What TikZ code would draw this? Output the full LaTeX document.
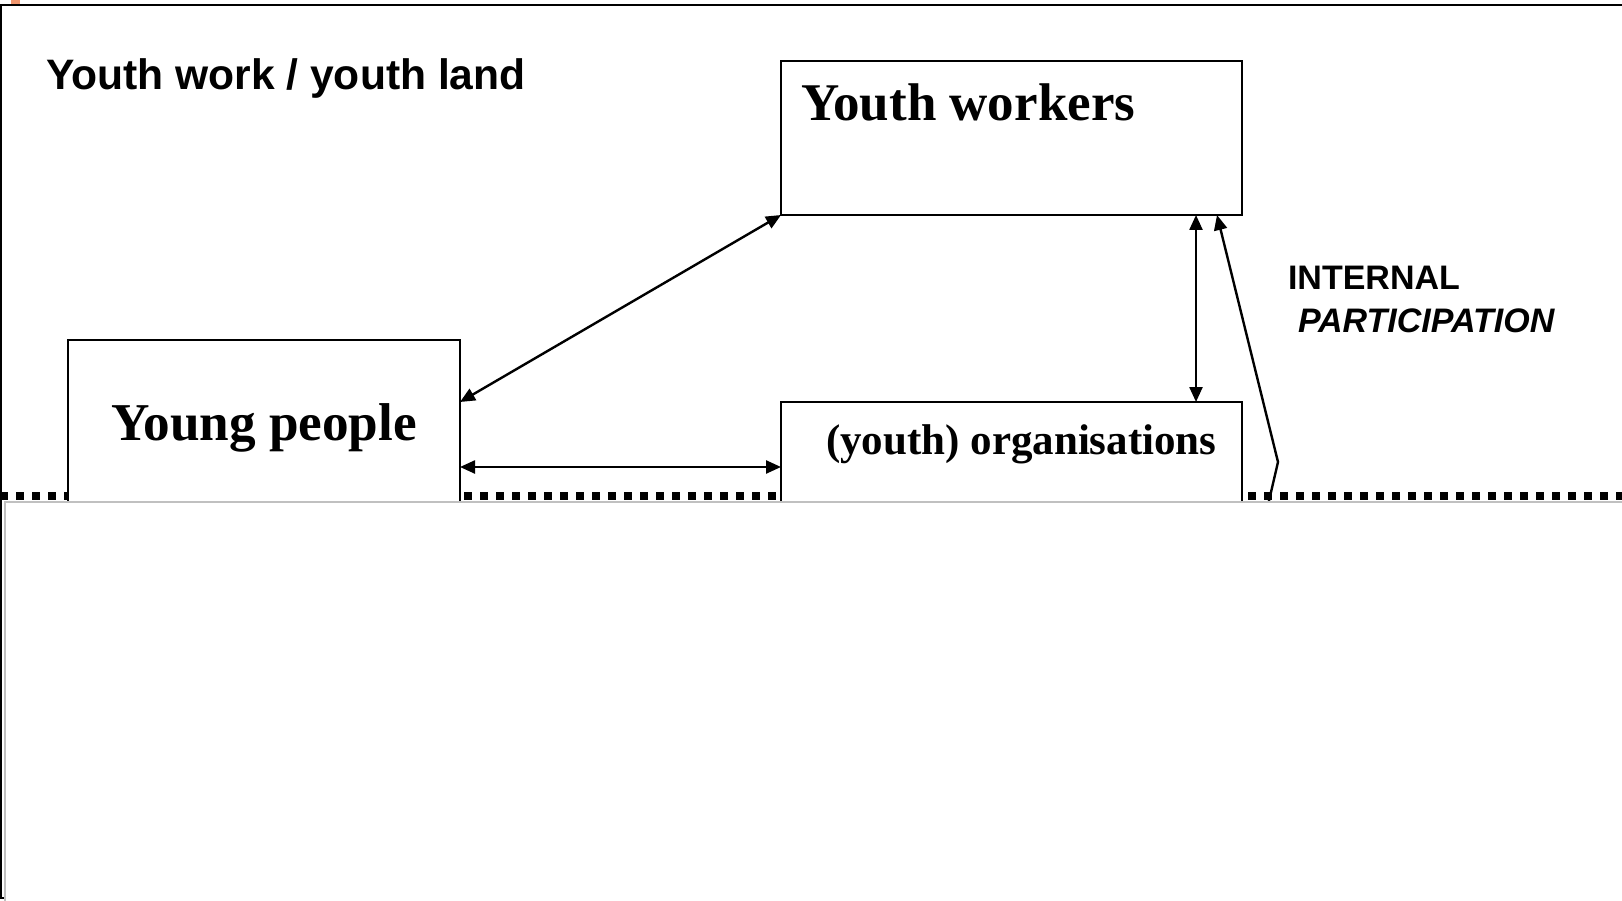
\documentclass[tikz,border=0pt]{standalone}
\usepackage{fontspec}
\setmainfont{Liberation Serif}
\newfontfamily\arialfont{Liberation Sans}
\usetikzlibrary{arrows.meta,calc}
\definecolor{covergray}{RGB}{192,192,192}
\definecolor{artifact}{RGB}{240,150,110}
\begin{document}
\begin{tikzpicture}[x=1pt,y=-1pt,
  box/.style={draw,line width=2.8pt,fill=white,inner sep=0pt,outer sep=0pt,anchor=north west},
  lbl/.style={inner sep=0pt,outer sep=0pt,anchor=base west},
  conn/.style={line width=2.4pt},
  biarrow/.style={conn,{Triangle[length=15pt,width=13pt]}-{Triangle[length=15pt,width=13pt]}},
  uparrow/.style={conn,-{Triangle[length=15pt,width=13pt]}},
  dotline/.style={line width=8pt,dash pattern=on 8pt off 8pt}]
\useasboundingbox (0,0) rectangle (1622,901);
\clip (0,0) rectangle (1622,901);
% outer frame
\draw[line width=2.8pt] (1,5) rectangle (1700,898);
\fill[artifact] (11,0) rectangle (20,4);
% dotted boundary
\draw[dotline] (0,496) -- (1622,496);
% boxes
\node[box,minimum width=461pt,minimum height=154pt] (yw) at (781,61) {};
\node[box,minimum width=392pt,minimum height=220pt] (yp) at (68,340) {};
\node[box,minimum width=461pt,minimum height=130pt] (org) at (781,402) {};
% helper coordinates
\coordinate (vx) at (1196,0);
\coordinate (tx) at (1217,0);
\coordinate (bend) at (1278,462);
\coordinate (tail) at (1268,505);
% connectors
\draw[biarrow] (yp.east |- org.north) -- (yw.south west);
\draw[biarrow] (yp.east |- org.west) -- (org.west);
\draw[biarrow] (yw.south -| vx) -- (org.north -| vx);
\draw[uparrow] (tail) -- (bend) -- (yw.south -| tx);
% cover sheet
\draw[covergray,line width=1.5pt,fill=white] (5,502) rectangle (1700,1000);
% texts
\node[lbl,font={\arialfont\bfseries\fontsize{42.6}{43}\selectfont}] (title) at (46,90) {Youth work / youth land};
\node[lbl,font={\bfseries\fontsize{53}{53}\selectfont}] (ywt) at (801,121) {Youth workers};
\node[lbl,font={\bfseries\fontsize{53.2}{53}\selectfont}] (ypt) at (111,440) {Young people};
\node[lbl,font={\bfseries\fontsize{43}{43}\selectfont}] (orgt) at (826,454) {(youth) organisations};
\node[lbl,font={\arialfont\bfseries\fontsize{34}{34}\selectfont}] (int) at (1288,290) {INTERNAL};
\node[lbl,font={\arialfont\bfseries\itshape\fontsize{34}{34}\selectfont}] (part) at (1298,332) {PARTICIPATION};
\end{tikzpicture}
\end{document}
